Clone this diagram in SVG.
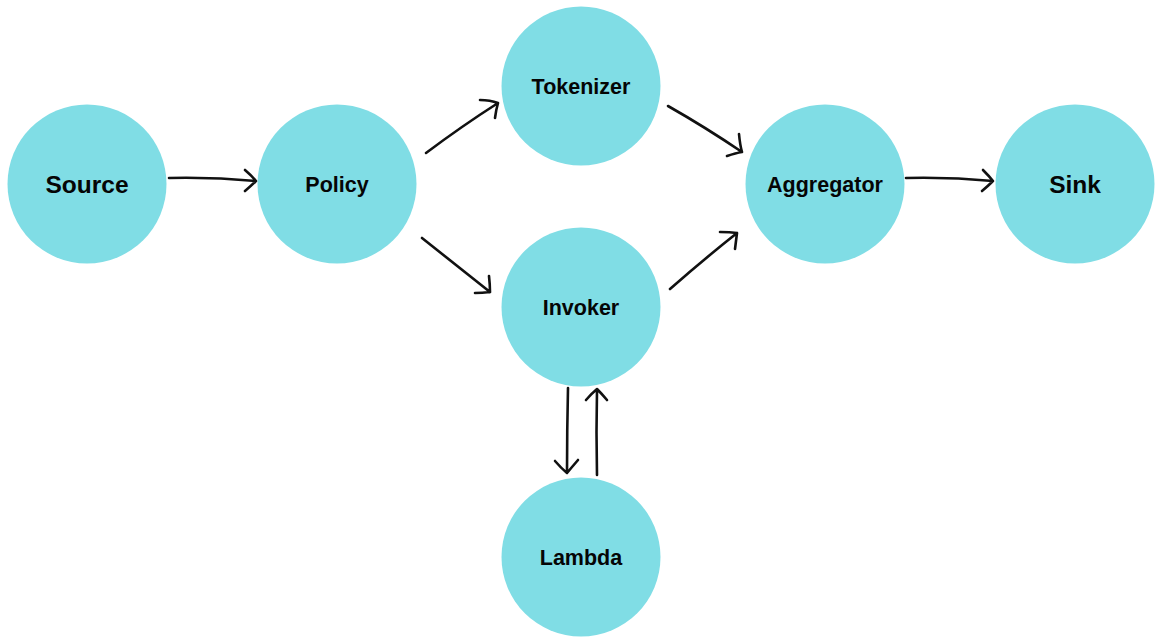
<svg xmlns="http://www.w3.org/2000/svg" width="1160" height="642" viewBox="0 0 1160 642">
<style>
.n{fill:#80dde5}
.t{font-family:"Liberation Sans",Arial,sans-serif;font-weight:700;fill:#050505;text-anchor:middle}
.big{font-size:24.5px}
.sm{font-size:21.5px}
.c path{fill:none;stroke:#111;stroke-width:2.6;stroke-linecap:round;stroke-linejoin:round}
</style>
<rect width="1160" height="642" fill="#fff"/>
<g id="source"><circle class="n" cx="87" cy="184" r="79.5"/><text class="t big" x="87" y="193">Source</text></g>
<g id="policy"><circle class="n" cx="337" cy="184" r="79.5"/><text class="t sm" x="337" y="192">Policy</text></g>
<g id="tokenizer"><circle class="n" cx="581" cy="86" r="79.5"/><text class="t sm" x="581" y="94">Tokenizer</text></g>
<g id="invoker"><circle class="n" cx="581" cy="307" r="79.5"/><text class="t sm" x="581" y="315">Invoker</text></g>
<g id="aggregator"><circle class="n" cx="825" cy="184" r="79.5"/><text class="t sm" x="825" y="192">Aggregator</text></g>
<g id="sink"><circle class="n" cx="1075" cy="184" r="79.5"/><text class="t big" x="1075" y="193">Sink</text></g>
<g id="lambda"><circle class="n" cx="581" cy="557" r="79.5"/><text class="t sm" x="581" y="565">Lambda</text></g>
<g class="c" id="connectors">
<path d="M169,178 Q212,177 256,181 M245,170 Q252,176 256,181 Q251,186 245,191"/>
<path d="M426,153 Q462,126 498,103 M480,100 Q490,100 498,103 Q496,110 495,118"/>
<path d="M668,106 Q705,127 742,152 M739,134 Q740,145 742,152 Q736,153 727,156"/>
<path d="M422,238 Q456,265 490,292 M489,276 Q490,285 490,292 Q482,293 475,293"/>
<path d="M670,289 Q703,260 737,233 M720,232 Q730,232 737,233 Q736,241 735,249"/>
<path d="M906,178 Q950,177 993,181 M983,170 Q989,176 993,181 Q988,186 982,191"/>
<path d="M568,388 Q567,430 567,473 M555,461 Q561,468 567,473 Q572,467 578,460"/>
<path d="M597,475 Q596,432 597,390 M586,400 Q591,394 597,389 Q602,394 607,400"/>
</g>
</svg>
